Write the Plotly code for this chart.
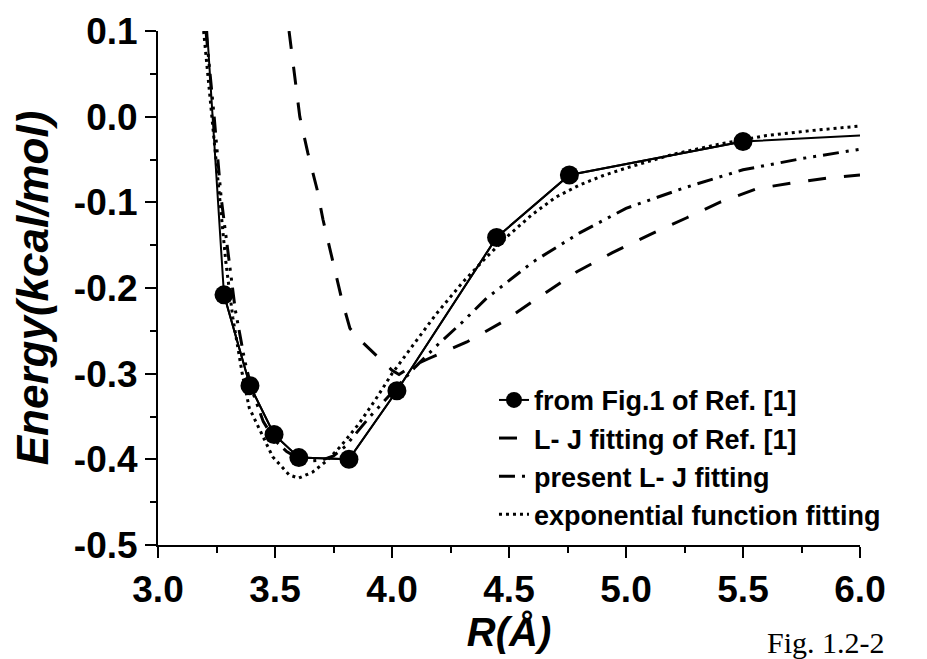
import plotly.graph_objects as go

# ---- data ----
# "from Fig.1 of Ref. [1]" data points (R in Angstrom, energy in kcal/mol)
r_fig1 = [3.282, 3.393, 3.496, 3.602, 3.816, 4.021, 4.447, 4.758, 5.50]
e_fig1 = [-0.208, -0.314, -0.371, -0.398, -0.400, -0.320, -0.141, -0.068, -0.029]
# the connecting line continues beyond the first / last points
r_fig1_start, e_fig1_start = 3.21, 0.10
r_fig1_end, e_fig1_end = 6.0, -0.022

# L-J fitting of Ref. [1] (dashed)
r_lj_ref = [3.56, 3.585, 3.606, 3.64, 3.68, 3.705, 3.748, 3.786, 3.82, 3.85, 3.88,
            3.94, 4.00, 4.03, 4.08, 4.16, 4.32, 4.47, 4.63, 4.79, 4.94, 5.10, 5.26,
            5.40, 5.56, 5.72, 5.88, 6.0]
e_lj_ref = [0.10, 0.043, 0.0, -0.042, -0.085, -0.120, -0.171, -0.214, -0.247, -0.257,
            -0.265, -0.280, -0.296, -0.301, -0.292, -0.282, -0.263, -0.240, -0.210,
            -0.181, -0.159, -0.138, -0.118, -0.100, -0.084, -0.077, -0.071, -0.068]

# present L-J fitting (dash-dot-dot)
r_lj_new = [3.205, 3.24, 3.27, 3.30, 3.33, 3.37, 3.40, 3.45, 3.50, 3.55, 3.60, 3.65,
            3.70, 3.75, 3.80, 3.90, 4.00, 4.10, 4.20, 4.30, 4.40, 4.50, 4.60, 4.80,
            5.00, 5.25, 5.50, 5.75, 6.00]
e_lj_new = [0.10, 0.0, -0.095, -0.160, -0.225, -0.284, -0.318, -0.356, -0.378, -0.391,
            -0.399, -0.402, -0.401, -0.396, -0.385, -0.352, -0.322, -0.292, -0.265,
            -0.240, -0.213, -0.191, -0.170, -0.136, -0.107, -0.083, -0.062, -0.049,
            -0.038]

# exponential function fitting (dotted)
r_exp = [3.195, 3.23, 3.26, 3.29, 3.32, 3.36, 3.39, 3.435, 3.49, 3.56, 3.60, 3.66,
         3.72, 3.78, 3.86, 3.93, 4.00, 4.10, 4.19, 4.30, 4.40, 4.50, 4.60, 4.70,
         4.80, 4.90, 5.00, 5.20, 5.40, 5.60, 5.80, 6.00]
e_exp = [0.10, 0.0, -0.09, -0.17, -0.235, -0.30, -0.34, -0.366, -0.397, -0.418,
         -0.422, -0.415, -0.402, -0.385, -0.358, -0.330, -0.300, -0.263, -0.230,
         -0.194, -0.165, -0.138, -0.114, -0.094, -0.080, -0.069, -0.060, -0.044,
         -0.032, -0.022, -0.016, -0.011]

series_names = ["from Fig.1 of Ref. [1]", "L- J fitting of Ref. [1]",
                "present L- J fitting", "exponential function fitting"]

x_ticks = [3.0, 3.5, 4.0, 4.5, 5.0, 5.5, 6.0]
x_tick_labels = ["3.0", "3.5", "4.0", "4.5", "5.0", "5.5", "6.0"]
y_ticks = [0.1, 0.0, -0.1, -0.2, -0.3, -0.4, -0.5]
y_tick_labels = ["0.1", "0.0", "-0.1", "-0.2", "-0.3", "-0.4", "-0.5"]

FONT = "Liberation Sans, Arial, sans-serif"

fig = go.Figure()

# full solid line of the reference data (incl. extensions), no legend entry
fig.add_trace(go.Scatter(
    x=[r_fig1_start] + r_fig1 + [r_fig1_end],
    y=[e_fig1_start] + e_fig1 + [e_fig1_end],
    mode="lines", line=dict(color="black", width=2),
    showlegend=False, hoverinfo="skip"))

fig.add_trace(go.Scatter(
    x=r_fig1, y=e_fig1, mode="lines+markers", name=series_names[0],
    line=dict(color="black", width=2),
    marker=dict(color="black", size=19, symbol="circle")))

fig.add_trace(go.Scatter(
    x=r_lj_ref, y=e_lj_ref, mode="lines", name=series_names[1],
    line=dict(color="black", width=3, dash="18px,18px")))

fig.add_trace(go.Scatter(
    x=r_lj_new, y=e_lj_new, mode="lines", name=series_names[2],
    line=dict(color="black", width=3, dash="16px,7px,3px,7px,3px,7px")))

fig.add_trace(go.Scatter(
    x=r_exp, y=e_exp, mode="lines", name=series_names[3],
    line=dict(color="black", width=3, dash="3px,4px")))

axis_common = dict(
    showline=True, linecolor="black", linewidth=2, mirror=False,
    showgrid=False, zeroline=False,
    ticks="outside", ticklen=11, tickwidth=2, tickcolor="black",
    tickfont=dict(family=FONT, size=37, color="black", weight="bold"),
)

fig.update_xaxes(
    range=[3.0, 6.0], tickmode="array", tickvals=x_ticks, ticktext=x_tick_labels,
    minor=dict(tickmode="linear", tick0=3.0, dtick=0.25, ticks="outside",
               ticklen=6, tickwidth=2, tickcolor="black", showgrid=False),
    title=dict(text="R(Å)", standoff=8,
               font=dict(family=FONT, size=40, color="black", weight="bold",
                         style="italic")),
    **axis_common)

fig.update_yaxes(
    range=[-0.5, 0.1], tickmode="array", tickvals=y_ticks, ticktext=y_tick_labels,
    minor=dict(tickmode="linear", tick0=0.0, dtick=0.05, ticks="outside",
               ticklen=6, tickwidth=2, tickcolor="black", showgrid=False),
    title=dict(text="Energy(kcal/mol)", standoff=21,
               font=dict(family=FONT, size=44, color="black", weight="bold",
                         style="italic")),
    **axis_common)

fig.add_annotation(
    text="Fig. 1.2-2", xref="paper", yref="paper", x=0.951, y=-0.19,
    xanchor="center", yanchor="middle", showarrow=False,
    font=dict(family="Liberation Serif, Times New Roman, serif", size=30,
              color="black"))

# the page adds an 8 px body margin, so the figure is 919x651 to fill the window
fig.update_layout(
    width=919, height=651,
    margin=dict(l=150, r=67, t=23, b=114, autoexpand=False),
    paper_bgcolor="white", plot_bgcolor="white",
    legend=dict(x=0.4786, y=0.329, xanchor="left", yanchor="top",
                bgcolor="rgba(0,0,0,0)", borderwidth=0,
                font=dict(family=FONT, size=27, color="black", weight="bold"),
                tracegroupgap=0, itemwidth=30),
    showlegend=True,
)

fig.write_html("out.html")
